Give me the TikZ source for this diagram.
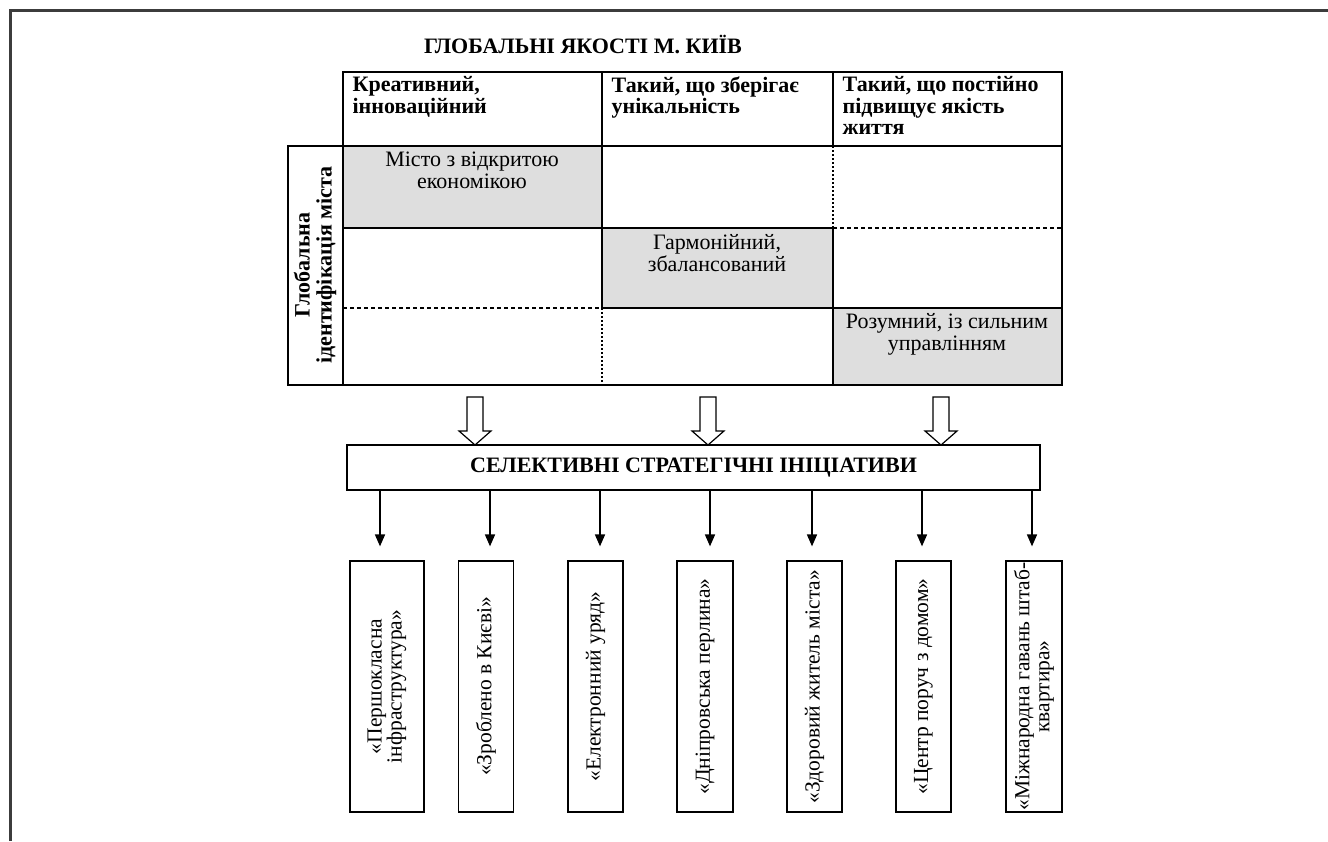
\documentclass[tikz,border=0pt]{standalone}
\usepackage{fontspec}
\setmainfont{Liberation Serif}
\usetikzlibrary{arrows.meta}

\begin{document}
\begin{tikzpicture}[x=0.5pt,y=-0.5pt,line width=0.6pt,
  txt/.style={font=\fontsize{11}{11}\selectfont, inner sep=0pt, align=center},
  headtxt/.style={font=\fontsize{11}{10.75}\selectfont\bfseries, anchor=north west,
    align=left, inner xsep=4.5pt, inner ysep=2pt,
    execute at begin node={\rule{0pt}{8.5pt}}},
  initbox/.style={draw, rotate=90, minimum width=125.5pt, inner xsep=0pt, inner ysep=1pt,
    align=center, font=\fontsize{10.75}{10}\selectfont},
  hollow/.style={draw, line width=0.6pt, fill=white},
  conn/.style={-{Triangle[length=6pt,width=5pt]}, line width=0.8pt},
  fineline/.style={dash pattern=on 1pt off 1pt},
  shortdash/.style={dash pattern=on 2pt off 1.5pt}]
\definecolor{cellgrey}{RGB}{222,222,222}
\definecolor{framegrey}{RGB}{60,60,60}
  \useasboundingbox (0,0) rectangle (1328,841);

  % outer frame, only top and left
  \draw[framegrey, line width=1.5pt] (10,841) -- (10,10) -- (1328,10);

  \node[txt, font=\fontsize{11}{11}\selectfont\bfseries] (title) at (583,45)
    {ГЛОБАЛЬНІ ЯКОСТІ М. КИЇВ};

  % header row
  \draw (343,72) rectangle (1062,146);
  \draw (602,72) -- (602,146) (833,72) -- (833,146);
  \node[headtxt] (hd1) at (343,72) {Креативний,\\інноваційний};
  \node[headtxt] (hd2) at (602,72) {Такий, що зберігає\\унікальність};
  \node[headtxt] (hd3) at (833,72) {Такий, що постійно\\підвищує якість\\життя};

  % grey cells on the diagonal
  \fill[cellgrey] (343,146) rectangle (602,228);
  \fill[cellgrey] (602,228) rectangle (833,308);
  \fill[cellgrey] (833,308) rectangle (1062,385);

  % grid lines
  \draw (288,146) rectangle (1062,385);
  \draw (343,146) -- (343,385);
  \draw (343,228) -- (833,228);
  \draw[shortdash] (833,228) -- (1062,228);
  \draw[shortdash] (343,308) -- (602,308);
  \draw (602,308) -- (1062,308);
  \draw (602,146) -- (602,308);
  \draw[fineline] (602,308) -- (602,385);
  \draw[fineline] (833,146) -- (833,228);
  \draw (833,228) -- (833,385);

  \node[txt] (c11) at (472,170) {Місто з відкритою\\економікою};
  \node[txt] (c22) at (717,253) {Гармонійний,\\збалансований};
  \node[txt] (c33) at (947,334) {Розумний, із сильним\\управлінням};

  \node[txt, rotate=90, font=\fontsize{11}{11}\selectfont\bfseries] (lbl) at (315,265)
    {Глобальна\\ідентифікація міста};

  % strategic initiatives
  \node[draw, minimum width=346.5pt, minimum height=22.5pt, inner sep=0pt,
    font=\fontsize{11}{11}\selectfont\bfseries] (sel) at (693.5,467.5)
    {СЕЛЕКТИВНІ СТРАТЕГІЧНІ ІНІЦІАТИВИ};

  \foreach \x in {475,708,941}
    \draw[hollow] (\x-8,397) -- (\x+8,397) -- (\x+8,431) -- (\x+16,431)
      -- (\x,445) -- (\x-16,431) -- (\x-8,431) -- cycle;

  % initiatives, arrow x given apart from the box centre
  \foreach \i/\x/\ax/\w/\t in {1/387/380/74/{«Першокласна\\інфраструктура»},
      2/486/490/55/{«Зроблено в Києві»}, 3/595.5/600/55/{«Електронний уряд»},
      4/705/710/56/{«Дніпровська перлина»}, 5/814.5/812/55/{«Здоровий житель міста»},
      6/923.5/922/55/{«Центр поруч з домом»},
      7/1034/1032/56/{«Міжнародна гавань штаб-\\квартира»}}{
    \node[initbox, minimum height=\w*0.5pt] (ini\i) at (\x,686.5) {\t};
    \draw[conn] (sel.south -| \ax,0) -- ([yshift=7pt]ini\i.east -| \ax,0);
  }

\end{tikzpicture}
\end{document}
